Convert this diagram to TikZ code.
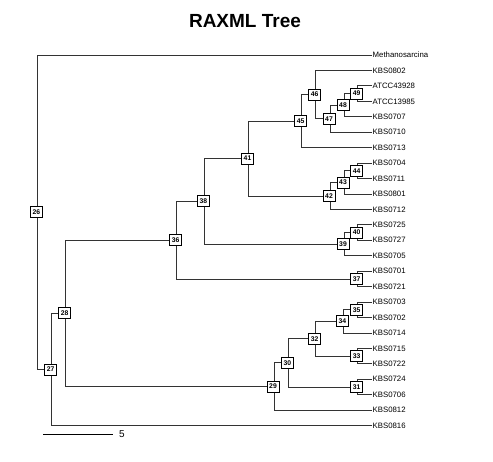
\documentclass[tikz,border=0pt]{standalone}
\usepackage{fontspec}
\setmainfont{Liberation Sans}
\usetikzlibrary{positioning}

\begin{document}
\begin{tikzpicture}[
  x=1pt, y=-1pt,
  br/.style={draw=black!80,line width=0.8pt},
  leaf/.style={anchor=west,inner sep=0.5pt,font=\fontsize{7.8}{8}\selectfont},
  nb/.style={draw,fill=white,line width=0.7pt,inner sep=0pt,minimum width=12pt,
             minimum height=11pt,font=\fontsize{6.8}{7}\selectfont\bfseries,xshift=-1pt}
]
\useasboundingbox (0,0) rectangle (493,461);
\node[font=\fontsize{19}{20}\selectfont\bfseries] (title) at (245,21.5) {RAXML Tree};

% tips
\node[leaf] (lMe) at (372,55) {Methanosarcina};
\node[leaf] (l0802) at (372,70.44) {KBS0802};
\node[leaf] (lA439) at (372,85.88) {ATCC43928};
\node[leaf] (lA139) at (372,101.32) {ATCC13985};
\node[leaf] (l0707) at (372,116.76) {KBS0707};
\node[leaf] (l0710) at (372,132.2) {KBS0710};
\node[leaf] (l0713) at (372,147.64) {KBS0713};
\node[leaf] (l0704) at (372,163.08) {KBS0704};
\node[leaf] (l0711) at (372,178.52) {KBS0711};
\node[leaf] (l0801) at (372,193.96) {KBS0801};
\node[leaf] (l0712) at (372,209.4) {KBS0712};
\node[leaf] (l0725) at (372,224.84) {KBS0725};
\node[leaf] (l0727) at (372,240.28) {KBS0727};
\node[leaf] (l0705) at (372,255.72) {KBS0705};
\node[leaf] (l0701) at (372,271.16) {KBS0701};
\node[leaf] (l0721) at (372,286.6) {KBS0721};
\node[leaf] (l0703) at (372,302.04) {KBS0703};
\node[leaf] (l0702) at (372,317.48) {KBS0702};
\node[leaf] (l0714) at (372,332.92) {KBS0714};
\node[leaf] (l0715) at (372,348.36) {KBS0715};
\node[leaf] (l0722) at (372,363.8) {KBS0722};
\node[leaf] (l0724) at (372,379.24) {KBS0724};
\node[leaf] (l0706) at (372,394.68) {KBS0706};
\node[leaf] (l0812) at (372,410.12) {KBS0812};
\node[leaf] (l0816) at (372,425.56) {KBS0816};

% internal nodes
\coordinate (n26) at (37.3,212.2);
\coordinate (n27) at (51.7,369.4);
\coordinate (n28) at (65.7,313.3);
\coordinate (n36) at (176.7,240.1);
\coordinate (n38) at (204.3,201.3);
\coordinate (n41) at (248.5,158.5);
\coordinate (n45) at (301.7,121.1);
\coordinate (n46) at (315.7,94.6);
\coordinate (n47) at (330,118.7);
\coordinate (n48) at (344,105.2);
\coordinate (n49) at (357.7,93.6);
\coordinate (n42) at (330,195.9);
\coordinate (n43) at (344,182.4);
\coordinate (n44) at (357.7,170.8);
\coordinate (n39) at (344,244.1);
\coordinate (n40) at (357.7,232.6);
\coordinate (n37) at (357.7,278.9);
\coordinate (n29) at (274,386.5);
\coordinate (n30) at (288.3,362.8);
\coordinate (n32) at (315.7,338.7);
\coordinate (n34) at (343.3,321.3);
\coordinate (n35) at (357.7,309.8);
\coordinate (n33) at (357.7,356.1);
\coordinate (n31) at (357.7,387);

% branches
\draw[br] (n26) |- (lMe.west);  \draw[br] (n26) |- (n27);
\draw[br] (n27) |- (n28);       \draw[br] (n27) |- (l0816.west);
\draw[br] (n28) |- (n36);       \draw[br] (n28) |- (n29);
\draw[br] (n36) |- (n38);       \draw[br] (n36) |- (n37);
\draw[br] (n38) |- (n41);       \draw[br] (n38) |- (n39);
\draw[br] (n41) |- (n45);       \draw[br] (n41) |- (n42);
\draw[br] (n45) |- (n46);       \draw[br] (n45) |- (l0713.west);
\draw[br] (n46) |- (l0802.west); \draw[br] (n46) |- (n47);
\draw[br] (n47) |- (n48);       \draw[br] (n47) |- (l0710.west);
\draw[br] (n48) |- (n49);       \draw[br] (n48) |- (l0707.west);
\draw[br] (n49) |- (lA439.west); \draw[br] (n49) |- (lA139.west);
\draw[br] (n42) |- (n43);       \draw[br] (n42) |- (l0712.west);
\draw[br] (n43) |- (n44);       \draw[br] (n43) |- (l0801.west);
\draw[br] (n44) |- (l0704.west); \draw[br] (n44) |- (l0711.west);
\draw[br] (n39) |- (n40);       \draw[br] (n39) |- (l0705.west);
\draw[br] (n40) |- (l0725.west); \draw[br] (n40) |- (l0727.west);
\draw[br] (n37) |- (l0701.west); \draw[br] (n37) |- (l0721.west);
\draw[br] (n29) |- (n30);       \draw[br] (n29) |- (l0812.west);
\draw[br] (n30) |- (n32);       \draw[br] (n30) |- (n31);
\draw[br] (n32) |- (n34);       \draw[br] (n32) |- (n33);
\draw[br] (n34) |- (n35);       \draw[br] (n34) |- (l0714.west);
\draw[br] (n35) |- (l0703.west); \draw[br] (n35) |- (l0702.west);
\draw[br] (n33) |- (l0715.west); \draw[br] (n33) |- (l0722.west);
\draw[br] (n31) |- (l0724.west); \draw[br] (n31) |- (l0706.west);

% node labels
\foreach \k in {26,27,28,29,30,31,32,33,34,35,36,37,38,39,40,41,42,43,44,45,46,47,48,49}
  \node[nb] (b\k) at (n\k) {\k};

% scale bar
\coordinate (s0) at (43,434);
\node[anchor=west,inner sep=0pt,font=\fontsize{10}{11}\selectfont] (sl) at (119,434) {5};
\coordinate (s1) at (113.3,434);
\draw[black,line width=0.8pt] (s0) -- (s1);
\end{tikzpicture}
\end{document}
